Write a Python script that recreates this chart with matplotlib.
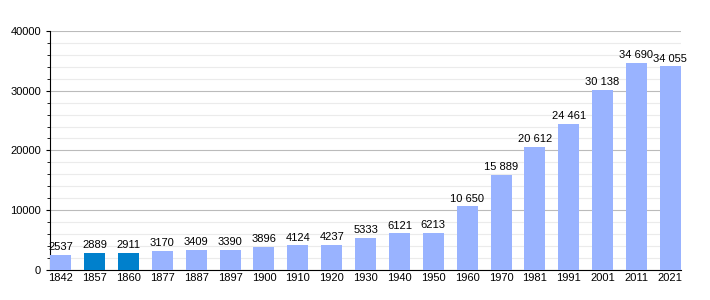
import matplotlib.pyplot as plt
from matplotlib.ticker import MultipleLocator

plt.rcParams['font.family'] = ['Liberation Sans', 'DejaVu Sans']

years = ['1842', '1857', '1860', '1877', '1887', '1897', '1900', '1910', '1920',
         '1930', '1940', '1950', '1960', '1970', '1981', '1991', '2001', '2011', '2021']
population = [2537, 2889, 2911, 3170, 3409, 3390, 3896, 4124, 4237,
              5333, 6121, 6213, 10650, 15889, 20612, 24461, 30138, 34690, 34055]
highlight = ['1857', '1860']

fig = plt.figure(figsize=(7.1, 3.0), dpi=100)
ax = fig.add_axes([0.0704, 0.1, 0.889, 0.797])

colors = ['#0080cc' if y in highlight else '#99b3ff' for y in years]
x = range(len(years))
ax.bar(x, population, width=0.62, color=colors, zorder=3)


def fmt(v):
    if v >= 10000:
        return f"{v:,}".replace(',', ' ')
    return str(v)


for i, v in zip(x, population):
    ax.text(i, v + 450, fmt(v), ha='center', va='bottom', fontsize=8, zorder=4)

ax.set_xlim(-0.32, len(years) - 0.68)
ax.set_ylim(0, 40000)
ax.set_xticks(list(x))
ax.set_xticklabels(years, fontsize=8)
ax.yaxis.set_major_locator(MultipleLocator(10000))
ax.yaxis.set_minor_locator(MultipleLocator(2000))
ax.tick_params(axis='y', labelsize=8, length=3)
ax.tick_params(axis='y', which='minor', length=2)
ax.tick_params(axis='x', length=0, pad=2)
ax.grid(axis='y', which='major', color='#bbbbbb', linewidth=0.8, zorder=0)
ax.grid(axis='y', which='minor', color='#ebebeb', linewidth=0.8, zorder=0)
for s in ['top', 'right']:
    ax.spines[s].set_visible(False)

fig.savefig('out.png', dpi=100)
